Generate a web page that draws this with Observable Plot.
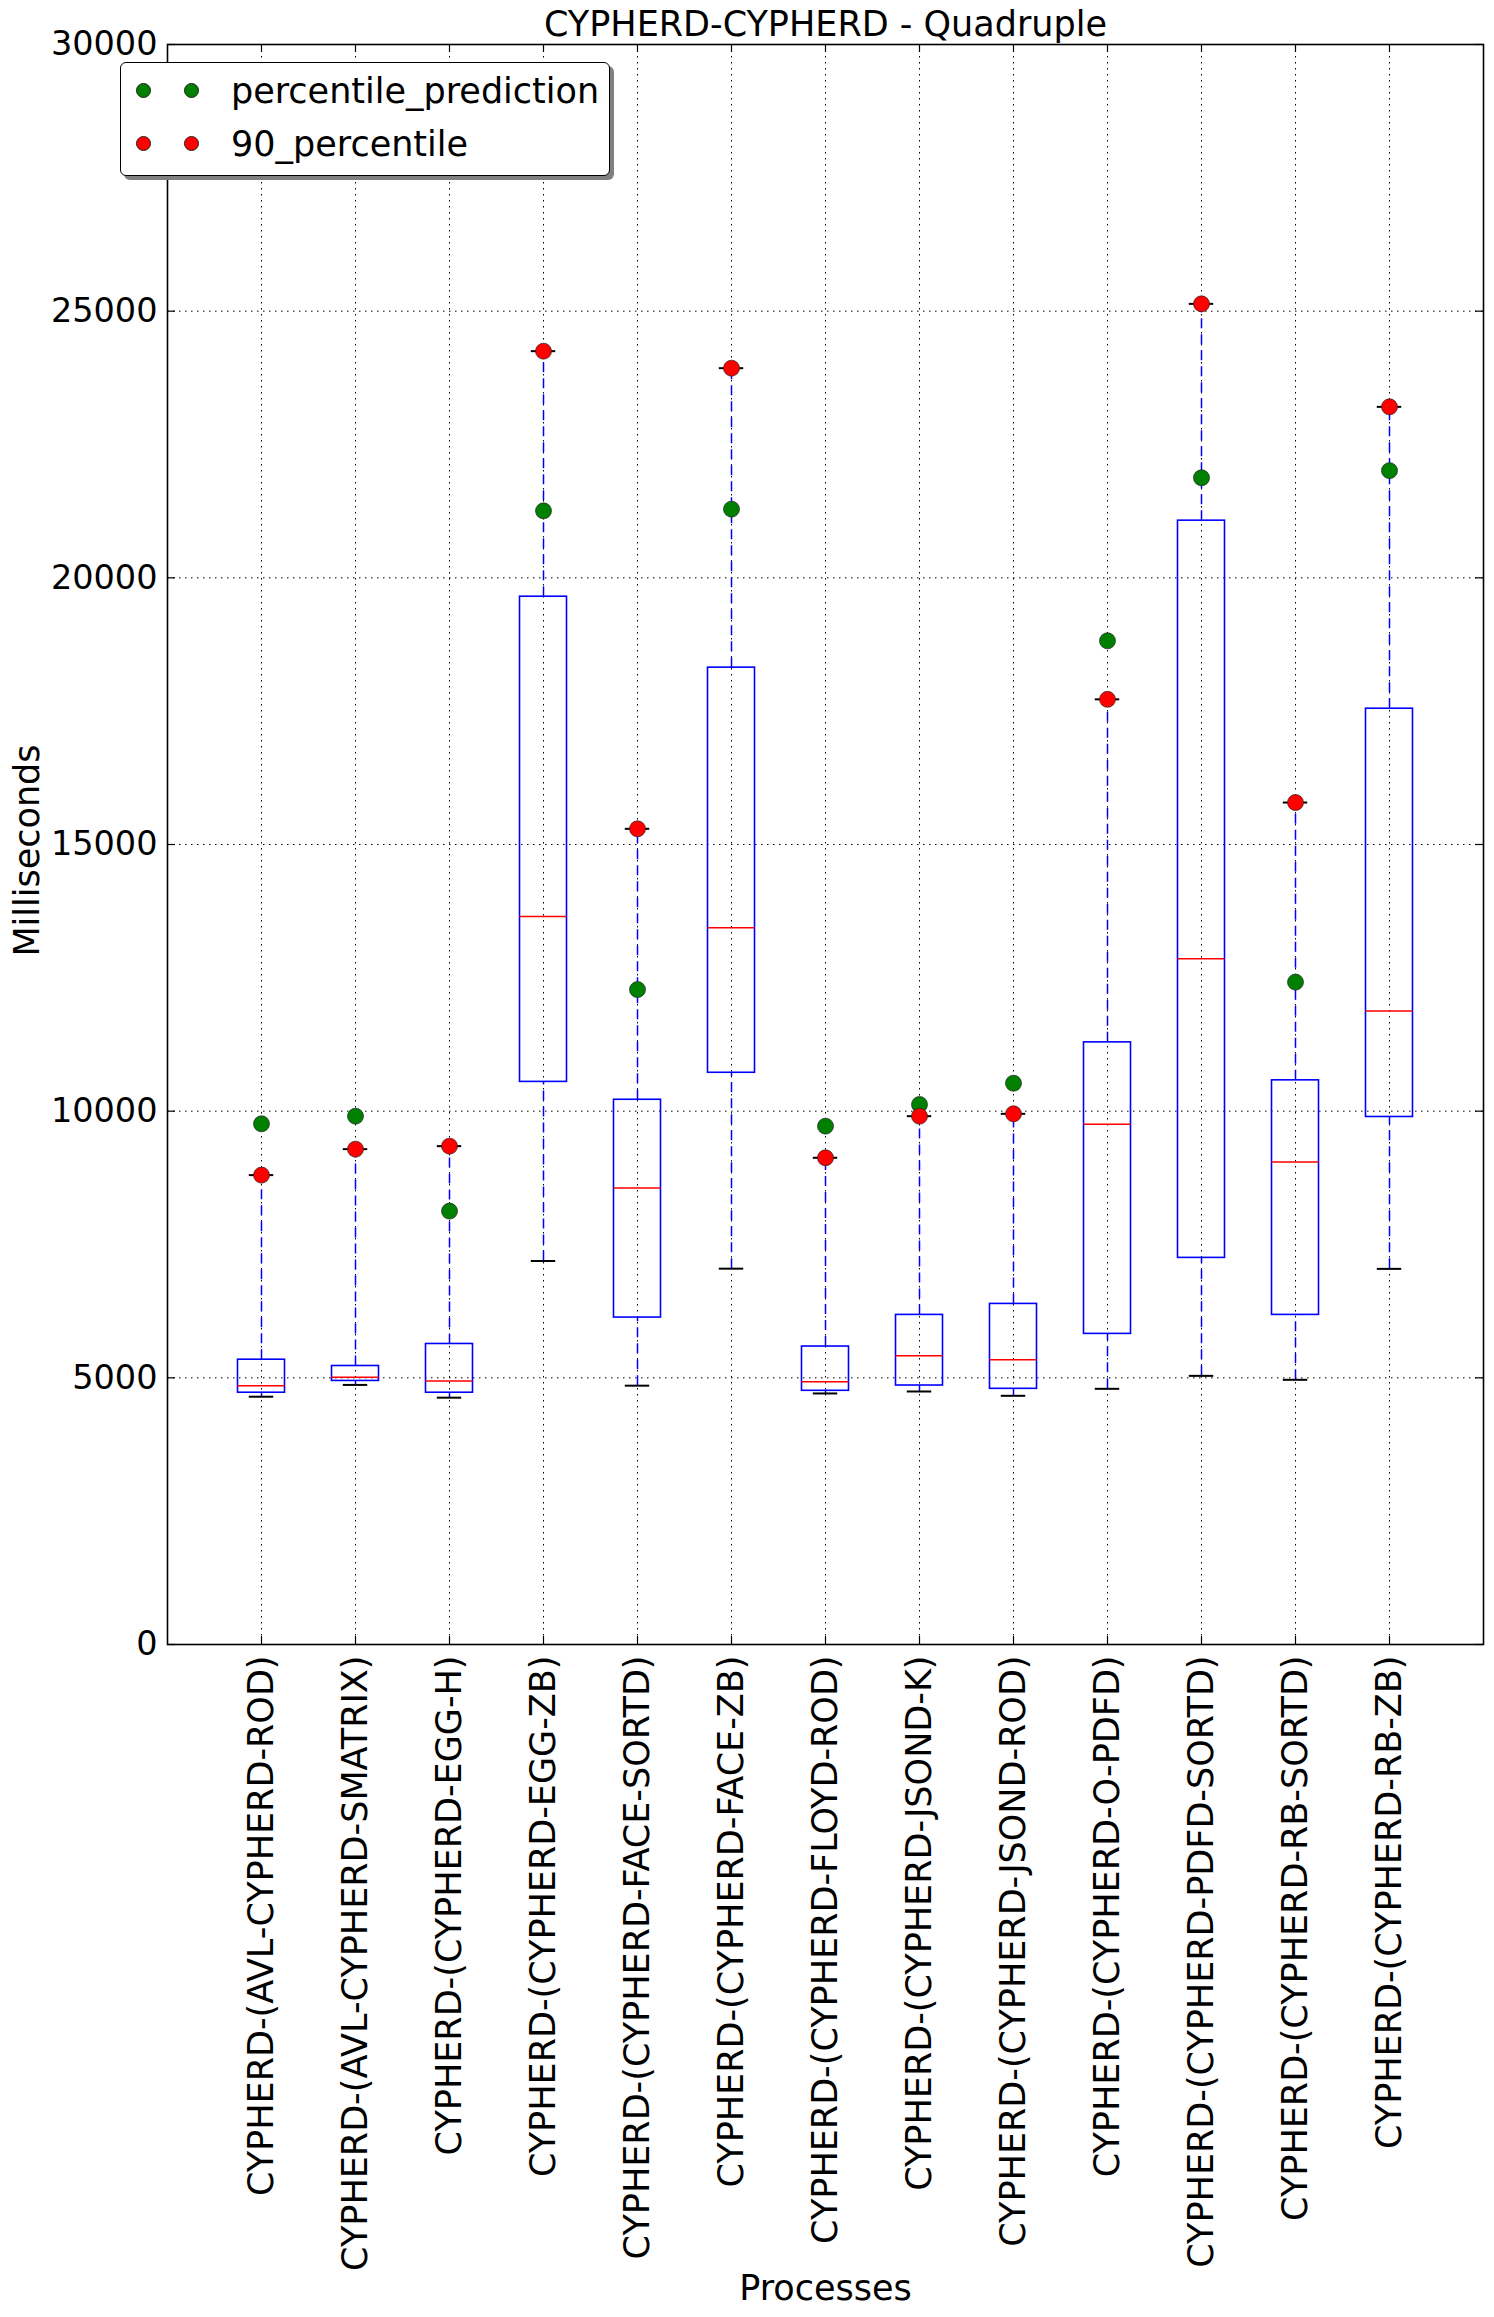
<!DOCTYPE html>
<html>
<head>
<meta charset="utf-8">
<script src="https://cdn.jsdelivr.net/npm/d3@7"></script>
<script src="https://cdn.jsdelivr.net/npm/@observablehq/plot@0.6"></script>
<style>
  html, body { margin: 0; padding: 0; background: #fff; }
  #wrap { position: relative; width: 1494px; height: 2317px; font-family: "DejaVu Sans", sans-serif; }
  #legend { position: absolute; left: 120px; top: 62px; width: 488px; height: 112px;
    border: 1.5px solid #000; border-radius: 6px; background: #fff; box-shadow: 4px 4px 0 #808080; }
  .lrow { position: absolute; left: 0; height: 40px; width: 100%; }
  .ldot { position: absolute; width: 15px; height: 15px; border-radius: 50%; border: 0.7px solid #222; box-sizing: border-box; }
  .ltxt { position: absolute; left: 110px; font-size: 35px; line-height: 40px; top: 1px; color: #000; white-space: nowrap; }
</style>
</head>
<body>
<div id="wrap"></div>
<script>
const chartTitle = "CYPHERD-CYPHERD - Quadruple";
const xLabel = "Processes";
const yLabel = "Milliseconds";
const categories = [
  "CYPHERD-(AVL-CYPHERD-ROD)",
  "CYPHERD-(AVL-CYPHERD-SMATRIX)",
  "CYPHERD-(CYPHERD-EGG-H)",
  "CYPHERD-(CYPHERD-EGG-ZB)",
  "CYPHERD-(CYPHERD-FACE-SORTD)",
  "CYPHERD-(CYPHERD-FACE-ZB)",
  "CYPHERD-(CYPHERD-FLOYD-ROD)",
  "CYPHERD-(CYPHERD-JSOND-K)",
  "CYPHERD-(CYPHERD-JSOND-ROD)",
  "CYPHERD-(CYPHERD-O-PDFD)",
  "CYPHERD-(CYPHERD-PDFD-SORTD)",
  "CYPHERD-(CYPHERD-RB-SORTD)",
  "CYPHERD-(CYPHERD-RB-ZB)"
];
const whiskerLow  = [4646, 4867, 4628, 7191, 4853, 7047, 4707, 4744, 4663, 4794, 5037, 4963, 7043];
const q1          = [4721, 4942, 4721, 10549, 6130, 10720, 4757, 4856, 4794, 5824, 7249, 6180, 9891];
const median      = [4853, 5010, 4942, 13648, 8559, 13437, 4925, 5412, 5337, 9757, 12856, 9048, 11876];
const q3          = [5340, 5222, 5635, 19646, 10214, 18316, 5587, 6180, 6386, 11290, 21072, 10578, 17546];
const whiskerHigh = [8801, 9288, 9344, 24250, 15294, 23931, 9126, 9906, 9950, 17722, 25137, 15787, 23206];
const percentilePrediction = [9763, 9906, 8126, 21256, 12280, 21288, 9719, 10125, 10524, 18819, 21876, 12420, 22010];
const percentile90 = [8801, 9288, 9344, 24250, 15294, 23931, 9126, 9906, 9950, 17722, 25137, 15787, 23206];
const yTicks = [0, 5000, 10000, 15000, 20000, 25000, 30000];
const seriesNames = ["percentile_prediction", "90_percentile"];
const seriesColors = ["#008000", "#ff0000"];

const rows = categories.map((c, i) => ({
  c, pos: i + 1,
  lo: whiskerLow[i], q1: q1[i], med: median[i], q3: q3[i], hi: whiskerHigh[i],
  pred: percentilePrediction[i], p90: percentile90[i]
}));
const positions = rows.map(d => d.pos);
const xMax = categories.length + 1;
const boxHalf = 0.25, capHalf = 0.13;
const tickLenX = 0.085;   // inward tick length in x-units
const tickLenY = 150;     // inward tick length in y-units
const grid = {stroke: "#000", strokeWidth: 1, strokeDasharray: "1.5,4.5"};

const plot = Plot.plot({
  width: 1494,
  height: 2317,
  marginTop: 44,
  marginLeft: 167,
  marginRight: 11,
  marginBottom: 673,
  style: {fontFamily: "DejaVu Sans", fontSize: "34px", background: "#fff", color: "#000", overflow: "visible"},
  x: {type: "linear", domain: [0, xMax]},
  y: {type: "linear", domain: [0, 30000]},
  marks: [
    Plot.ruleY(yTicks, {...grid}),
    Plot.ruleX(positions, {...grid}),
    // whiskers
    Plot.ruleX(rows, {x: "pos", y1: "q3", y2: "hi", stroke: "#0000ff", strokeWidth: 1.5, strokeDasharray: "10,6"}),
    Plot.ruleX(rows, {x: "pos", y1: "lo", y2: "q1", stroke: "#0000ff", strokeWidth: 1.5, strokeDasharray: "10,6"}),
    // caps
    Plot.ruleY(rows, {y: "hi", x1: d => d.pos - capHalf, x2: d => d.pos + capHalf, stroke: "#000", strokeWidth: 2}),
    Plot.ruleY(rows, {y: "lo", x1: d => d.pos - capHalf, x2: d => d.pos + capHalf, stroke: "#000", strokeWidth: 2}),
    // boxes
    Plot.rect(rows, {x1: d => d.pos - boxHalf, x2: d => d.pos + boxHalf, y1: "q1", y2: "q3", fill: "none", stroke: "#0000ff", strokeWidth: 1.6}),
    Plot.ruleY(rows, {y: "med", x1: d => d.pos - boxHalf, x2: d => d.pos + boxHalf, stroke: "#ff0000", strokeWidth: 1.5}),
    // points
    Plot.dot(rows, {x: "pos", y: "pred", r: 8, fill: seriesColors[0], stroke: "#222", strokeWidth: 0.7}),
    Plot.dot(rows, {x: "pos", y: "p90", r: 8, fill: seriesColors[1], stroke: "#222", strokeWidth: 0.7}),
    // inward ticks
    Plot.ruleY(yTicks, {x1: 0, x2: tickLenX, stroke: "#000", strokeWidth: 1.2}),
    Plot.ruleY(yTicks, {x1: xMax - tickLenX, x2: xMax, stroke: "#000", strokeWidth: 1.2}),
    Plot.ruleX(positions, {y1: 0, y2: tickLenY, stroke: "#000", strokeWidth: 1.2}),
    Plot.ruleX(positions, {y1: 30000 - tickLenY, y2: 30000, stroke: "#000", strokeWidth: 1.2}),
    Plot.frame({stroke: "#000", strokeWidth: 1.6}),
    // axes
    Plot.axisY(yTicks, {tickSize: 0, tickPadding: 10, tickFormat: d => String(d), label: null, fontSize: 33.5}),
    Plot.axisX(positions, {tickSize: 0, tickPadding: 11, tickRotate: -90, tickFormat: p => categories[p - 1], label: null, fontSize: 35}),
    // labels
    Plot.text([yLabel], {frameAnchor: "left", rotate: -90, dx: -140, dy: 6, textAnchor: "middle", lineAnchor: "middle", fontSize: 35}),
    Plot.text([xLabel], {frameAnchor: "bottom", dy: 644, textAnchor: "middle", lineAnchor: "middle", fontSize: 35}),
    Plot.text([chartTitle], {frameAnchor: "top", dy: -20, textAnchor: "middle", lineAnchor: "middle", fontSize: 35})
  ]
});

const wrap = document.getElementById("wrap");
wrap.appendChild(plot);

// legend
const legend = document.createElement("div");
legend.id = "legend";
seriesNames.forEach((name, i) => {
  const row = document.createElement("div");
  row.className = "lrow";
  row.style.top = (7 + i * 53) + "px";
  [22, 70].forEach(cx => {
    const dot = document.createElement("div");
    dot.className = "ldot";
    dot.style.left = (cx - 7.5) + "px";
    dot.style.top = "12.5px";
    dot.style.background = seriesColors[i];
    row.appendChild(dot);
  });
  const t = document.createElement("div");
  t.className = "ltxt";
  t.textContent = name;
  row.appendChild(t);
  legend.appendChild(row);
});
wrap.appendChild(legend);
</script>
</body>
</html>
